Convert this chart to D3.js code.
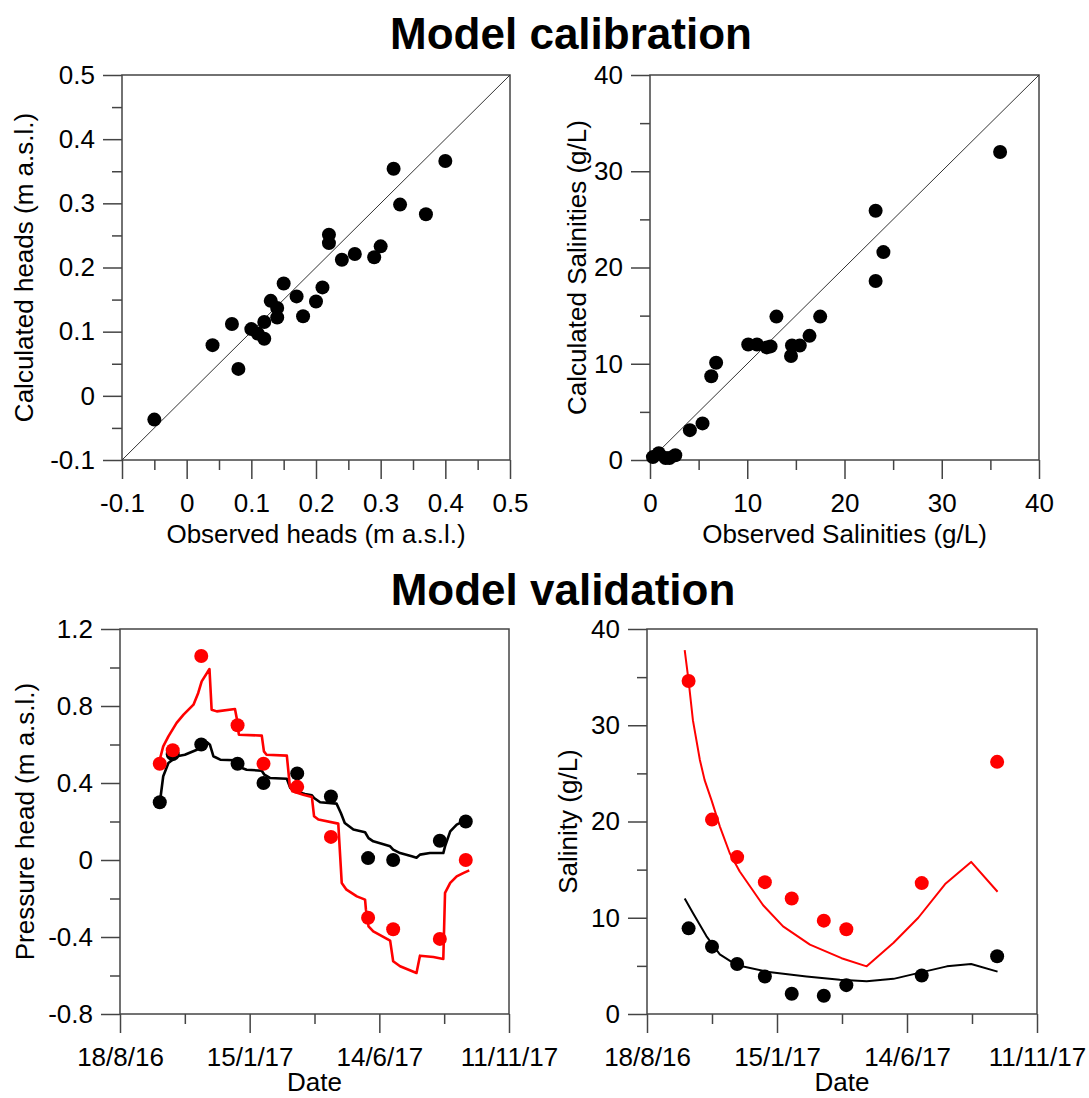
<!DOCTYPE html>
<html>
<head>
<meta charset="utf-8">
<script src="https://cdn.jsdelivr.net/npm/d3@7.9.0/dist/d3.min.js"></script>
<style>
  html, body { margin: 0; padding: 0; background: #fff; }
  svg text { font-family: "Liberation Sans", Arial, sans-serif; fill: #000; }
</style>
</head>
<body>
<svg id="chart" width="1089" height="1098"></svg>
<script>
// ---- calibration: heads (m a.s.l.)
const headsObserved = [-0.05, 0.04, 0.07, 0.08, 0.10, 0.11, 0.12, 0.12, 0.13, 0.14, 0.14, 0.15, 0.17,
  0.18, 0.20, 0.21, 0.22, 0.22, 0.24, 0.26, 0.29, 0.30, 0.32, 0.33, 0.37, 0.40];
const headsCalculated = [-0.037, 0.079, 0.112, 0.042, 0.104, 0.097, 0.089, 0.115, 0.148, 0.137, 0.122, 0.175, 0.155,
  0.124, 0.147, 0.169, 0.251, 0.238, 0.212, 0.221, 0.216, 0.233, 0.354, 0.298, 0.283, 0.366];

// ---- calibration: salinities (g/L)
const salObserved = [0.3, 0.9, 1.6, 2.0, 2.6, 4.1, 5.4, 6.3, 6.8, 10.1, 11.0, 12.0, 12.4, 13.0,
  14.5, 14.6, 15.4, 16.4, 17.5, 23.2, 24.0, 23.2, 36.0];
const salCalculated = [0.3, 0.7, 0.2, 0.2, 0.5, 3.1, 3.8, 8.7, 10.1, 12.0, 12.0, 11.7, 11.8, 14.9,
  10.8, 11.9, 11.9, 12.9, 14.9, 25.9, 21.6, 18.6, 32.0];

// ---- validation
const dateTickLabels = ["18/8/16", "15/1/17", "14/6/17", "11/11/17"];
const simStart = "18/8/16";

const headObsDates = ["3/10/16", "18/10/16", "20/11/16", "1/1/17", "31/1/17", "11/3/17",
  "19/4/17", "1/6/17", "30/6/17", "23/8/17", "22/9/17"];
const headObsBlack = [0.30, 0.55, 0.60, 0.50, 0.40, 0.45, 0.33, 0.01, 0.00, 0.10, 0.20];
const headObsRed = [0.50, 0.57, 1.06, 0.70, 0.50, 0.38, 0.12, -0.30, -0.36, -0.41, 0.00];

// simulated heads, days after 18/8/16
const headSimBlackDays = [47, 50, 56, 66, 75, 89, 94.5, 101, 104, 108, 116, 133, 136, 141, 146.5, 164, 167, 173.5,
  193, 197, 202.5, 214, 222, 224.5, 231.5, 250.5, 255.5, 260, 270, 283.5, 287.5, 293, 312.5, 316, 324, 337.5, 343,
  347, 358.5, 374, 376, 382, 389.5, 397, 403];
const headSimBlack = [0.33, 0.435, 0.504, 0.539, 0.547, 0.573, 0.59, 0.611, 0.599, 0.539, 0.521, 0.518, 0.504, 0.478,
  0.469, 0.464, 0.443, 0.426, 0.422, 0.374, 0.357, 0.343, 0.336, 0.322, 0.30, 0.293, 0.244, 0.192, 0.158, 0.144, 0.114,
  0.097, 0.071, 0.054, 0.036, 0.019, 0.012, 0.028, 0.036, 0.036, 0.071, 0.149, 0.184, 0.201, 0.21];
const headSimRedDays = [46.5, 50, 56, 65.5, 73.5, 85, 90.5, 94.5, 103.5, 106, 112, 133, 135, 137.5, 164, 166.5, 169.5,
  193, 196.5, 199.5, 212, 222, 224.5, 229.5, 252.5, 256.5, 262, 274, 283.5, 284.5, 287.5, 293, 312.5, 316, 324, 343,
  347, 362.5, 374, 376, 382, 389.5, 397, 404];
const headSimRed = [0.53, 0.59, 0.642, 0.712, 0.755, 0.807, 0.868, 0.928, 0.992, 0.781, 0.772, 0.784, 0.738, 0.651,
  0.646, 0.564, 0.547, 0.542, 0.383, 0.357, 0.339, 0.327, 0.227, 0.21, 0.189, -0.119, -0.154, -0.189, -0.206, -0.258,
  -0.345, -0.371, -0.419, -0.526, -0.552, -0.587, -0.497, -0.504, -0.514, -0.171, -0.119, -0.085, -0.068, -0.054];

const salObsDates = ["5/10/16", "1/11/16", "30/11/16", "1/1/17", "1/2/17", "10/3/17", "5/4/17", "1/7/17", "26/9/17"];
const salObsRed = [34.6, 20.2, 16.3, 13.7, 12.0, 9.7, 8.8, 13.6, 26.2];
const salObsBlack = [8.9, 7.0, 5.2, 3.9, 2.1, 1.9, 3.0, 4.0, 6.0];

const salSimRedDays = [43.5, 48, 53, 61, 66.5, 74.5, 84, 95.5, 107, 134, 157, 188, 224.5, 253.5, 284.5, 313, 344, 374, 404.5];
const salSimRed = [37.8, 34.6, 30.5, 26.4, 24.3, 22.2, 19.5, 16.7, 14.8, 11.3, 9.1, 7.2, 5.8, 4.95, 7.4, 10.0, 13.5, 15.8, 12.7];
const salSimBlackDays = [43.5, 53, 68.5, 84, 103, 138, 184, 222.5, 253.5, 284.5, 315, 346, 374, 404.5];
const salSimBlack = [12.0, 10.5, 8.1, 6.2, 5.1, 4.4, 3.9, 3.55, 3.4, 3.65, 4.3, 4.95, 5.2, 4.4];

const RED = "#ff0000";
const FONT = 26;
const DOT = 7;
const parseDate = d3.timeParse("%d/%m/%y");
const t0 = parseDate(simStart);
const svg = d3.select("#chart");

function numFmt(v) {
  return String(+v.toFixed(2));
}

function panel(o) {
  const w = o.right - o.left, h = o.bottom - o.top;
  const x = o.x.range([0, w]);
  const y = o.y.range([h, 0]);
  const g = svg.append("g").attr("transform", `translate(${o.left},${o.top})`);

  const styleAxis = (sel) => {
    sel.select(".domain").remove();
    sel.selectAll(".tick line").attr("stroke", "#444").attr("stroke-width", 1.5);
    sel.selectAll("text").attr("font-size", FONT).attr("fill", "#000");
    sel.attr("font-family", null).attr("font-size", null);
  };

  g.append("g").attr("transform", `translate(0,${h})`)
    .call(d3.axisBottom(x).tickValues(o.xMinor).tickSize(10).tickFormat(""))
    .call(styleAxis);
  g.append("g").attr("transform", `translate(0,${h})`)
    .call(d3.axisBottom(x).tickValues(o.xMajor).tickSize(19).tickPadding(15).tickFormat(o.xFmt))
    .call(styleAxis);
  g.append("g")
    .call(d3.axisLeft(y).tickValues(o.yMinor).tickSize(10).tickFormat(""))
    .call(styleAxis);
  g.append("g")
    .call(d3.axisLeft(y).tickValues(o.yMajor).tickSize(19).tickPadding(8).tickFormat(o.yFmt))
    .call(styleAxis);

  g.append("rect").attr("width", w).attr("height", h)
    .attr("fill", "none").attr("stroke", "#444").attr("stroke-width", 1.5);

  g.append("text").attr("x", w / 2).attr("y", h + o.xTitleY)
    .attr("text-anchor", "middle").attr("font-size", FONT).text(o.xTitle);
  g.append("text")
    .attr("transform", `translate(${o.yTitleX},${h / 2}) rotate(-90)`)
    .attr("text-anchor", "middle").attr("font-size", FONT).text(o.yTitle);

  return { g, x, y };
}

// ---- top-left: heads
{
  const p = panel({
    left: 122, right: 510, top: 75, bottom: 460,
    x: d3.scaleLinear().domain([-0.1, 0.5]), y: d3.scaleLinear().domain([-0.1, 0.5]),
    xMajor: d3.range(-0.1, 0.51, 0.1), xMinor: d3.range(-0.05, 0.5, 0.1),
    yMajor: d3.range(-0.1, 0.51, 0.1), yMinor: d3.range(-0.05, 0.5, 0.1),
    xFmt: numFmt, yFmt: numFmt,
    xTitle: "Observed heads (m a.s.l.)", xTitleY: 83,
    yTitle: "Calculated heads (m a.s.l.)", yTitleX: -89
  });
  p.g.append("line").attr("x1", p.x(-0.1)).attr("y1", p.y(-0.1)).attr("x2", p.x(0.5)).attr("y2", p.y(0.5))
    .attr("stroke", "#333").attr("stroke-width", 1);
  p.g.selectAll("circle").data(d3.zip(headsObserved, headsCalculated)).join("circle")
    .attr("cx", d => p.x(d[0])).attr("cy", d => p.y(d[1])).attr("r", DOT).attr("fill", "#000");
}

// ---- top-right: salinities
{
  const p = panel({
    left: 650, right: 1039, top: 75, bottom: 460,
    x: d3.scaleLinear().domain([0, 40]), y: d3.scaleLinear().domain([0, 40]),
    xMajor: d3.range(0, 41, 10), xMinor: d3.range(5, 40, 10),
    yMajor: d3.range(0, 41, 10), yMinor: d3.range(5, 40, 10),
    xFmt: numFmt, yFmt: numFmt,
    xTitle: "Observed Salinities (g/L)", xTitleY: 83,
    yTitle: "Calculated Salinities (g/L)", yTitleX: -64
  });
  p.g.append("line").attr("x1", p.x(0)).attr("y1", p.y(0)).attr("x2", p.x(40)).attr("y2", p.y(40))
    .attr("stroke", "#333").attr("stroke-width", 1);
  p.g.selectAll("circle").data(d3.zip(salObserved, salCalculated)).join("circle")
    .attr("cx", d => p.x(d[0])).attr("cy", d => p.y(d[1])).attr("r", DOT).attr("fill", "#000");
}

// ---- date axes
const dateMajor = dateTickLabels.map(parseDate);
const dateMinor = dateMajor.slice(0, -1).map(d => d3.timeDay.offset(d, 75));
const dateFmt = d => dateTickLabels[dateMajor.findIndex(m => +m === +d)];
const dayToDate = n => new Date(+t0 + n * 864e5);

function drawSeries(p, days, vals, color, width) {
  const line = d3.line().x(d => p.x(dayToDate(d[0]))).y(d => p.y(d[1]));
  p.g.append("path").datum(d3.zip(days, vals)).attr("d", line)
    .attr("fill", "none").attr("stroke", color).attr("stroke-width", width)
    .attr("stroke-linejoin", "round");
}
function drawObs(p, dates, vals, color) {
  p.g.append("g").selectAll("circle").data(d3.zip(dates, vals)).join("circle")
    .attr("cx", d => p.x(parseDate(d[0]))).attr("cy", d => p.y(d[1])).attr("r", DOT).attr("fill", color);
}

// ---- bottom-left: pressure head
{
  const p = panel({
    left: 120, right: 509, top: 629, bottom: 1014,
    x: d3.scaleTime().domain([dateMajor[0], dateMajor[3]]), y: d3.scaleLinear().domain([-0.8, 1.2]),
    xMajor: dateMajor, xMinor: dateMinor,
    yMajor: d3.range(-0.8, 1.21, 0.4), yMinor: d3.range(-0.6, 1.2, 0.4),
    xFmt: dateFmt, yFmt: numFmt,
    xTitle: "Date", xTitleY: 77,
    yTitle: "Pressure head (m a.s.l.)", yTitleX: -86
  });
  drawSeries(p, headSimBlackDays, headSimBlack, "#000", 2.6);
  drawSeries(p, headSimRedDays, headSimRed, RED, 2.6);
  drawObs(p, headObsDates, headObsBlack, "#000");
  drawObs(p, headObsDates, headObsRed, RED);
}

// ---- bottom-right: salinity
{
  const p = panel({
    left: 647, right: 1037, top: 629, bottom: 1014,
    x: d3.scaleTime().domain([dateMajor[0], dateMajor[3]]), y: d3.scaleLinear().domain([0, 40]),
    xMajor: dateMajor, xMinor: dateMinor,
    yMajor: d3.range(0, 41, 10), yMinor: d3.range(5, 40, 10),
    xFmt: dateFmt, yFmt: numFmt,
    xTitle: "Date", xTitleY: 77,
    yTitle: "Salinity (g/L)", yTitleX: -70
  });
  drawSeries(p, salSimBlackDays, salSimBlack, "#000", 2);
  drawSeries(p, salSimRedDays, salSimRed, RED, 2);
  drawObs(p, salObsDates, salObsBlack, "#000");
  drawObs(p, salObsDates, salObsRed, RED);
}

// ---- section titles
svg.append("text").attr("x", 571).attr("y", 49).attr("text-anchor", "middle")
  .attr("font-size", 44).attr("font-weight", "bold").text("Model calibration");
svg.append("text").attr("x", 563).attr("y", 605).attr("text-anchor", "middle")
  .attr("font-size", 44).attr("font-weight", "bold").text("Model validation");
</script>
</body>
</html>
